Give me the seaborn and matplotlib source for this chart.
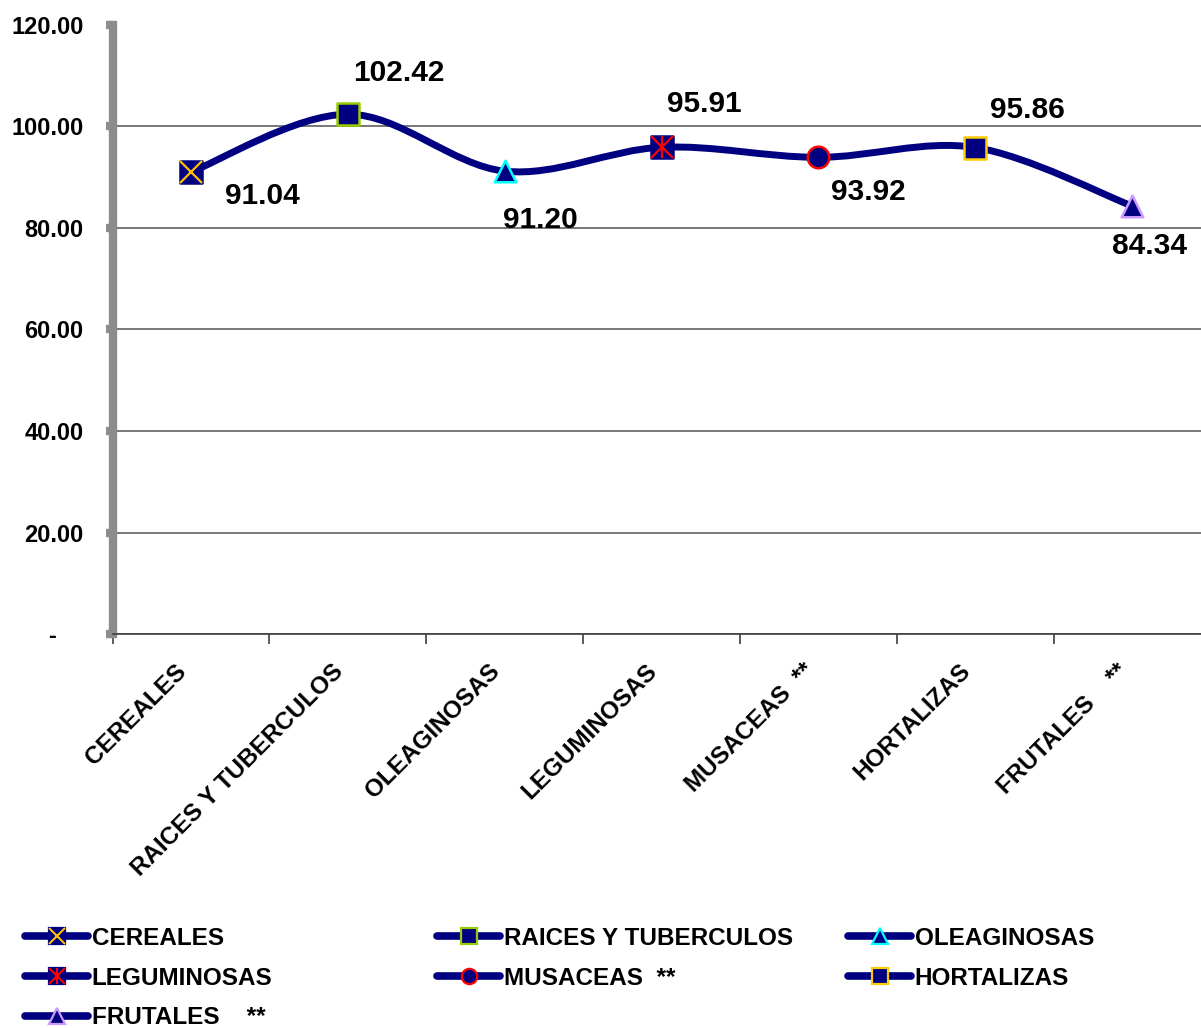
import numpy as np
import matplotlib
matplotlib.use("Agg")
import matplotlib.pyplot as plt
import seaborn as sns
from matplotlib.path import Path
from matplotlib.patches import PathPatch
from matplotlib.lines import Line2D

# Datos del gráfico
categorias = ["CEREALES", "RAICES Y TUBERCULOS", "OLEAGINOSAS", "LEGUMINOSAS",
              "MUSACEAS  **", "HORTALIZAS", "FRUTALES    **"]
valores = [91.04, 102.42, 91.20, 95.91, 93.92, 95.86, 84.34]
ticks_y = [0, 20, 40, 60, 80, 100, 120]
etiquetas_y = ["-    ", "20.00", "40.00", "60.00", "80.00", "100.00", "120.00"]

# Estilo de marcadores por categoria: (marcador, color de borde, superpuesto)
AZUL = "#000080"
estilos = [
    ("s", AZUL, ["x"], "#FFC000"),
    ("s", "#99CC00", [], None),
    ("^", "#00FFFF", [], None),
    ("s", AZUL, ["x", "|"], "#FF0000"),
    ("o", "#FF0000", [], None),
    ("s", "#FFCC00", [], None),
    ("^", "#CC99FF", [], None),
]
# desplazamiento de las etiquetas de datos (pixeles)
offsets = [(71, -24), (51, 41), (36, -49), (43, 43), (50, -35), (52, 38), (18, -40)]

sns.set_theme(style="white")
plt.rcParams["font.family"] = ["Liberation Sans", "DejaVu Sans"]
plt.rcParams["font.weight"] = "bold"
plt.rcParams["text.color"] = "black"
plt.rcParams["xtick.color"] = "black"
plt.rcParams["ytick.color"] = "black"

fig = plt.figure(figsize=(12.01, 10.28), dpi=100)
ax = fig.add_axes([112.6 / 1201, 394 / 1028, 1097.8 / 1201, 609 / 1028])

x = np.arange(len(valores))
y = np.array(valores)

# curva suavizada tipo Excel (Bezier con puntos de control Catmull-Rom)
pts = np.column_stack([x, y])
ext = np.vstack([pts[0], pts, pts[-1]])
verts = [tuple(pts[0])]
codes = [Path.MOVETO]
for i in range(len(pts) - 1):
    p0, p1, p2, p3 = ext[i], ext[i + 1], ext[i + 2], ext[i + 3]
    c1 = p1 + (p2 - p0) / 6
    c2 = p2 - (p3 - p1) / 6
    verts += [tuple(c1), tuple(c2), tuple(p2)]
    codes += [Path.CURVE4] * 3
ax.add_patch(PathPatch(Path(verts, codes), fill=False, edgecolor=AZUL,
                       lw=5, capstyle="round", joinstyle="round", zorder=3))

for i, (m, borde, extra, c_extra) in enumerate(estilos):
    sns.scatterplot(x=[x[i]], y=[y[i]], marker=m, s=15.5 ** 2, color=AZUL,
                    edgecolor=borde, linewidth=1.8, zorder=4, ax=ax, legend=False)
    for e in extra:
        ax.plot(x[i], y[i], marker=e, ms=16, mew=1.6, color=c_extra,
                linestyle="none", zorder=5)
    ax.annotate(f"{valores[i]:.2f}", (x[i], y[i]),
                xytext=(offsets[i][0] * 0.72, offsets[i][1] * 0.72),
                textcoords="offset points", ha="center", va="center",
                fontsize=21.5, fontweight="bold", color="black", zorder=6)

ax.set_xlim(-0.5, len(valores) - 0.5)
ax.set_ylim(0, 120)

ax.set_yticks(ticks_y)
ax.set_yticklabels(etiquetas_y, fontsize=17, fontweight="bold")
ax.yaxis.grid(True, color="#606060", lw=1.2)
for g in ax.get_ygridlines()[-1:]:
    g.set_visible(False)
ax.tick_params(axis="y", length=5, width=6, color="#8C8C8C", labelcolor="black",
               pad=16, direction="out", left=True)

ax.set_xticks(np.arange(-0.5, len(valores)), labels=[])
ax.tick_params(axis="x", which="major", length=7, width=1.2, color="#404040",
               direction="out", bottom=True)
ax.set_xticks(x, labels=categorias, minor=True)
ax.tick_params(axis="x", which="minor", length=0, pad=30, labelcolor="black")
for t in ax.get_xticklabels(minor=True):
    t.set_rotation(45)
    t.set_ha("right")
    t.set_va("bottom")
    t.set_rotation_mode("anchor")
    t.set_fontsize(17.5)
    t.set_fontweight("bold")

for s in ["top", "right"]:
    ax.spines[s].set_visible(False)
ax.spines["left"].set_color("#8C8C8C")
ax.spines["left"].set_linewidth(6)
ax.spines["bottom"].set_color("#404040")
ax.spines["bottom"].set_linewidth(1.2)
ax.set_axisbelow(True)

# leyenda en tres columnas
def handle(i):
    m, borde, extra, c_extra = estilos[i]
    base = Line2D([], [], color=AZUL, lw=5.5, solid_capstyle="round",
                  marker=m, ms=11, mfc=AZUL, mec=borde, mew=1.6)
    partes = [base] + [Line2D([], [], linestyle="none", marker=e, ms=11,
                              mew=1.5, color=c_extra) for e in extra]
    return tuple(partes) if len(partes) > 1 else base

columnas = [([0, 3, 6], 25), ([1, 4], 437), ([2, 5], 848)]
for idx, xpix in columnas:
    leg = fig.legend([handle(i) for i in idx], [categorias[i] for i in idx],
                     loc="upper left", bbox_to_anchor=(xpix / 1201, 1 - 927 / 1028),
                     frameon=False, prop={"size": 17.5, "weight": "bold"},
                     handlelength=2.6, handletextpad=0.15, labelspacing=0.68,
                     borderpad=0, borderaxespad=0)
    for t in leg.get_texts():
        t.set_color("black")

fig.savefig("out.png", dpi=100)
